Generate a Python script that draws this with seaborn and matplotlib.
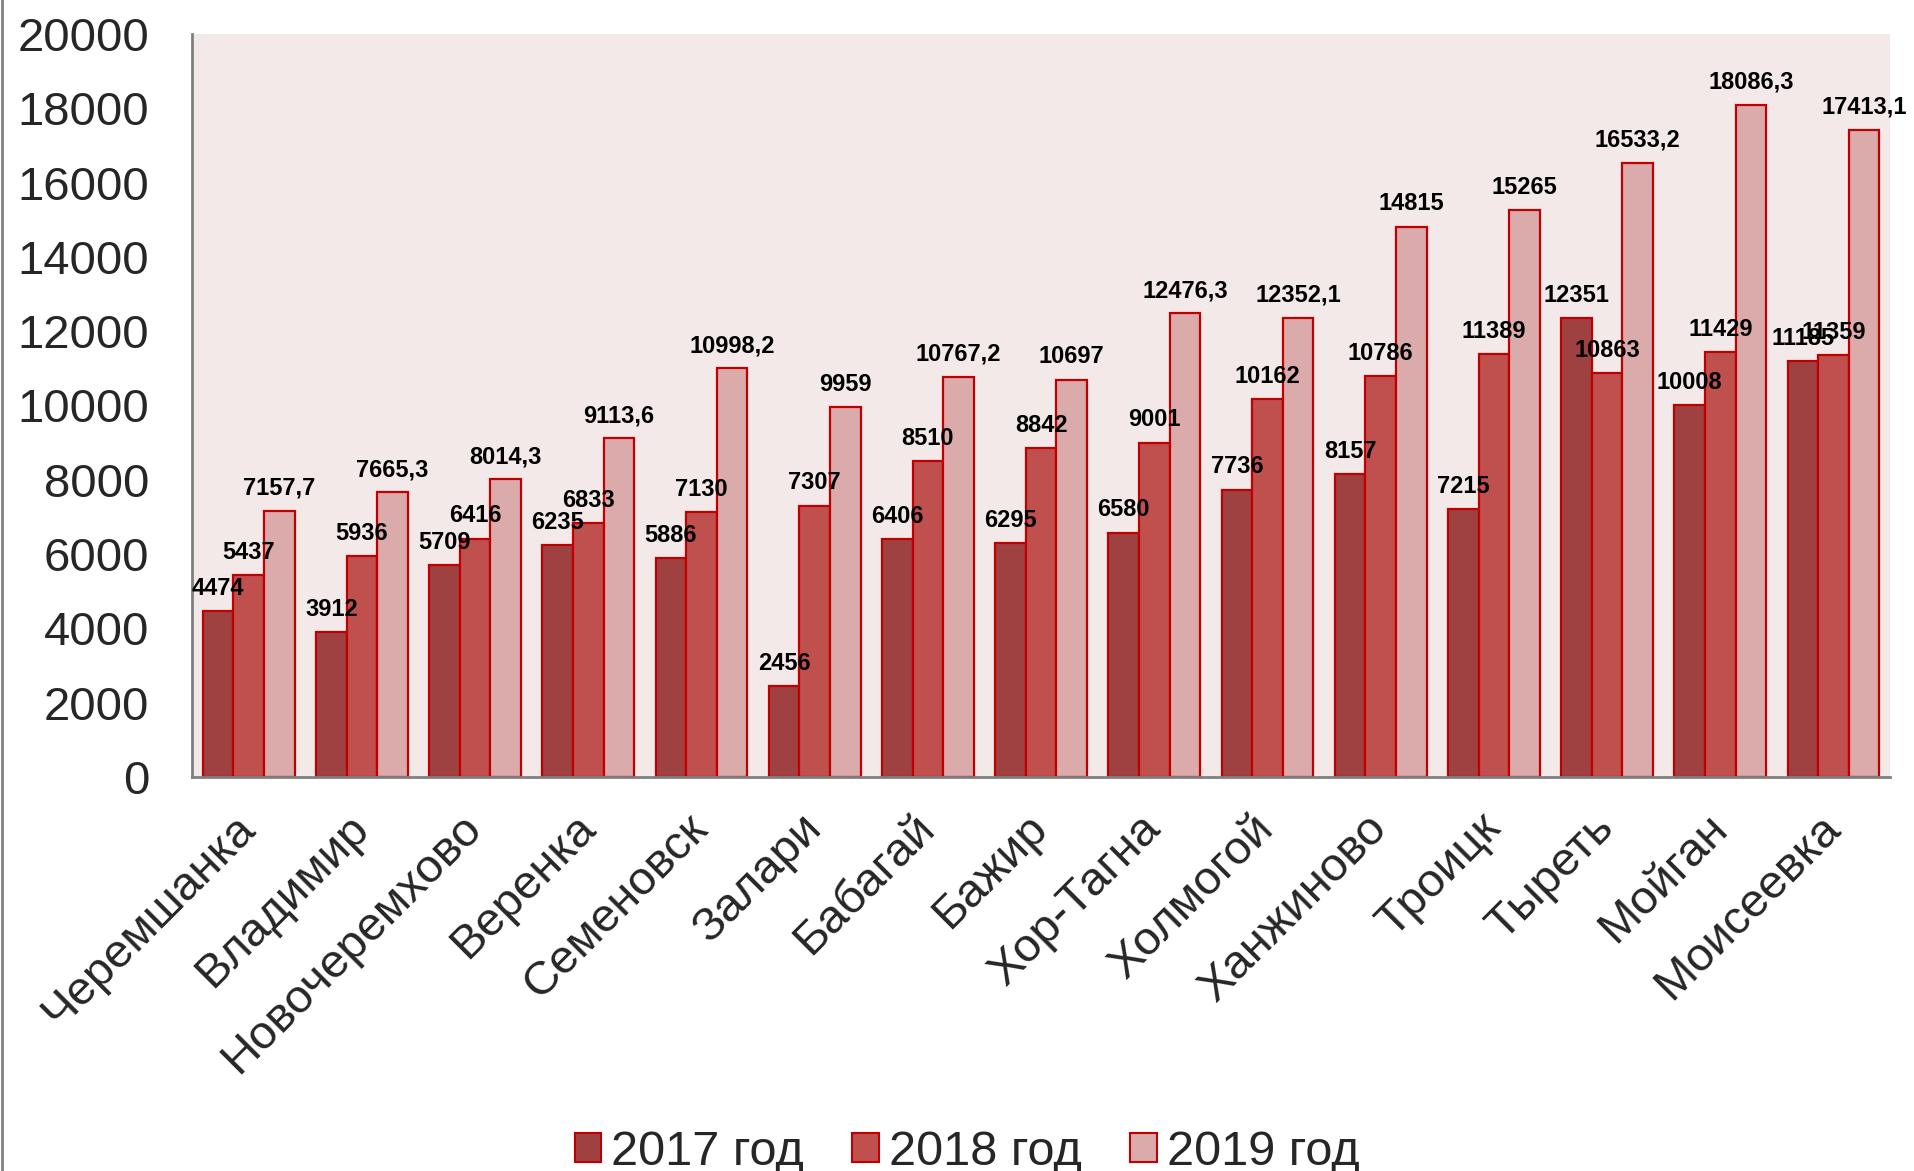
import pandas as pd
import matplotlib.pyplot as plt
import seaborn as sns
from matplotlib.lines import Line2D

# Data
villages = ["Черемшанка", "Владимир", "Новочеремхово", "Веренка", "Семеновск",
            "Залари", "Бабагай", "Бажир", "Хор-Тагна", "Холмогой",
            "Ханжиново", "Троицк", "Тыреть", "Мойган", "Моисеевка"]
y2017 = [4474, 3912, 5709, 6235, 5886, 2456, 6406, 6295, 6580, 7736,
         8157, 7215, 12351, 10008, 11185]
y2018 = [5437, 5936, 6416, 6833, 7130, 7307, 8510, 8842, 9001, 10162,
         10786, 11389, 10863, 11429, 11359]
y2019 = [7157.7, 7665.3, 8014.3, 9113.6, 10998.2, 9959, 10767.2, 10697, 12476.3, 12352.1,
         14815, 15265, 16533.2, 18086.3, 17413.1]
years = ["2017 год", "2018 год", "2019 год"]
colors = ["#A04141", "#C0504D", "#DBAAAA"]

df = pd.DataFrame({
    "Село": villages * 3,
    "Год": [years[0]] * 15 + [years[1]] * 15 + [years[2]] * 15,
    "Значение": y2017 + y2018 + y2019,
})


def fmt(v):
    if float(v).is_integer():
        return str(int(v))
    return f"{v:.1f}".replace(".", ",")


sns.set_style("white")
plt.rcParams["font.family"] = ["Liberation Sans", "DejaVu Sans"]

fig = plt.figure(figsize=(19.15, 11.71), dpi=100)
ax = fig.add_axes([0.1003, 0.3365, 0.8867, 0.6345])
ax.set_facecolor("#F3E9E9")

sns.barplot(data=df, x="Село", y="Значение", hue="Год", hue_order=years,
            palette=colors, width=0.81, gap=0, edgecolor="#C00000",
            linewidth=1.6, saturation=1, ax=ax, legend=False)

for cont, vals in zip(ax.containers, [y2017, y2018, y2019]):
    ax.bar_label(cont, labels=[fmt(v) for v in vals], padding=8,
                 fontsize=17, fontweight="bold", color="black")

ax.set_ylim(0, 20000)
ax.set_yticks(range(0, 20001, 2000))
ax.set_xlim(-0.5, 14.5)
ax.set_xlabel("")
ax.set_ylabel("")
ax.tick_params(axis="y", length=0, pad=31, labelsize=34)
ax.tick_params(axis="x", length=0, pad=32, labelsize=34)
for lab in ax.get_xticklabels():
    lab.set_rotation(45)
    lab.set_ha("right")
    lab.set_va("center")
    lab.set_rotation_mode("anchor")

for s in ["top", "right"]:
    ax.spines[s].set_visible(False)
for s in ["left", "bottom"]:
    ax.spines[s].set_color("#808080")
    ax.spines[s].set_linewidth(2)

handles = [plt.Rectangle((0, 0), 1, 1, facecolor=c, edgecolor="#C00000", linewidth=1.5)
           for c in colors]
fig.legend(handles, years, loc="center", bbox_to_anchor=(0.505, 0.016), ncol=3,
           frameon=False, fontsize=35, handlelength=0.55, handleheight=0.55,
           handletextpad=0.2, columnspacing=1.0)

fig.add_artist(Line2D([0.0008, 0.0008], [0, 1], color="#808080", linewidth=2,
                      transform=fig.transFigure))

fig.savefig("out.png", dpi=100)
